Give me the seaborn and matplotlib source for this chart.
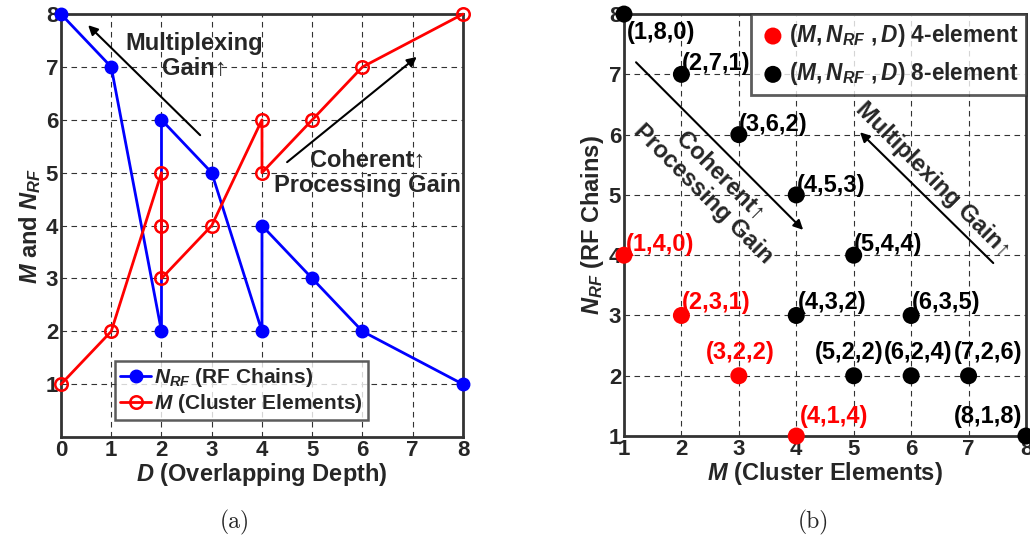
import matplotlib
matplotlib.use("Agg")
import matplotlib.pyplot as plt
import seaborn as sns

# ── (a) overlapping depth vs M and N_RF ──
d_nrf = [0, 1, 2, 2, 3, 4, 4, 5, 6, 8]
nrf_vals = [8, 7, 2, 6, 5, 2, 4, 3, 2, 1]
d_m = [0, 1, 2, 2, 2, 3, 4, 4, 5, 6, 8]
m_vals = [1, 2, 5, 4, 3, 4, 6, 5, 6, 7, 8]

# ── (b) (M, N_RF, D) configurations ──
m4 = [1, 2, 3, 4]
n4 = [4, 3, 2, 1]
d4 = [0, 1, 2, 4]
m8 = [1, 2, 3, 4, 5, 4, 6, 5, 6, 7, 8]
n8 = [8, 7, 6, 5, 4, 3, 3, 2, 2, 2, 1]
d8 = [0, 1, 2, 3, 4, 2, 5, 2, 4, 6, 8]

# label offsets (points) for the tuples in (b)
off4 = [(26, 8), (25, 9), (1, 17), (27, 14)]
off8 = [(27, -13), (25, 8), (25, 7), (25, 7), (25, 8), (26, 9), (25, 9),
        (-3, 17), (5, 17), (14, 17), (-27, 14)]

sns.set_style("white")
plt.rcParams["font.family"] = ["Liberation Sans", "DejaVu Sans"]
plt.rcParams["font.weight"] = "bold"
plt.rcParams["mathtext.fontset"] = "custom"
plt.rcParams["mathtext.it"] = "Liberation Sans:italic:bold"
plt.rcParams["mathtext.rm"] = "Liberation Sans:bold"
plt.rcParams["mathtext.bf"] = "Liberation Sans:bold"

fig = plt.figure(figsize=(10.3, 5.41), dpi=100)
ax1 = fig.add_axes([0.0592, 0.192, 0.3903, 0.782])
ax2 = fig.add_axes([0.6058, 0.194, 0.3903, 0.780])

grid_kw = dict(linestyle=(0, (5, 4)), color="#333333", linewidth=0.8)
for ax in (ax1, ax2):
    ax.grid(True, **grid_kw)
    ax.set_axisbelow(True)
    for sp in ax.spines.values():
        sp.set_linewidth(2)
        sp.set_color("#333333")
    ax.tick_params(direction="in", length=4, width=1, labelsize=16, pad=2)

# ── Plot (a) ──
sns.lineplot(x=d_nrf, y=nrf_vals, sort=False, estimator=None, ax=ax1,
             color="blue", linewidth=2, marker="o", markersize=9,
             markeredgecolor="blue", markeredgewidth=1,
             label=r"$N_{RF}$ (RF Chains)", clip_on=False, zorder=3)
sns.lineplot(x=d_m, y=m_vals, sort=False, estimator=None, ax=ax1,
             color="red", linewidth=2, marker="o", markersize=9,
             markerfacecolor="none", markeredgecolor="red",
             markeredgewidth=1.8,
             label=r"$M$ (Cluster Elements)", clip_on=False, zorder=4)
ax1.set_xlim(0, 8)
ax1.set_ylim(0, 8)
ax1.set_xticks(range(0, 9))
ax1.set_yticks(range(1, 9))
ax1.set_xlabel(r"$D$ (Overlapping Depth)", fontsize=17, fontweight="bold", labelpad=0)
ax1.set_ylabel(r"$M$ and $N_{RF}$", fontsize=17, fontweight="bold", labelpad=2)
leg1 = ax1.legend(loc="lower left", bbox_to_anchor=(0.134, 0.04), fontsize=15,
                  frameon=True, fancybox=False, borderaxespad=0,
                  handlelength=1.5, handletextpad=0.15, borderpad=0.25,
                  labelspacing=0.15)
leg1.get_frame().set_edgecolor("#333333")
leg1.get_frame().set_linewidth(1.8)

arrow_kw = dict(arrowstyle="-|>", color="black", lw=1.5, mutation_scale=14,
                shrinkA=0, shrinkB=0)
ax1.annotate("", xy=(0.54, 7.79), xytext=(2.77, 5.71), arrowprops=arrow_kw)
ax1.text(2.65, 7.2, "Multiplexing\nGain\u2191", fontsize=17, fontweight="bold",
         ha="center", va="center", multialignment="center", linespacing=1.1)
ax1.annotate("", xy=(7.08, 7.19), xytext=(4.5, 5.2), arrowprops=arrow_kw)
ax1.text(6.1, 5.0, "Coherent\u2191\nProcessing Gain", fontsize=17, fontweight="bold",
         ha="center", va="center", multialignment="center", linespacing=1.1)

# ── Plot (b) ──
sns.scatterplot(x=m4, y=n4, ax=ax2, color="red", s=150, edgecolor="none",
                label=r"$\mathit{(M,N_{RF}\ ,D)}$ 4-element", clip_on=False, zorder=4)
sns.scatterplot(x=m8, y=n8, ax=ax2, color="black", s=150, edgecolor="none",
                label=r"$\mathit{(M,N_{RF}\ ,D)}$ 8-element", clip_on=False, zorder=4)
for m, n, d, off in zip(m4, n4, d4, off4):
    ax2.annotate(f"({m},{n},{d})", (m, n), xytext=off, textcoords="offset points",
                 ha="center", va="center", color="red", fontsize=17,
                 fontweight="bold", annotation_clip=False)
for m, n, d, off in zip(m8, n8, d8, off8):
    ax2.annotate(f"({m},{n},{d})", (m, n), xytext=off, textcoords="offset points",
                 ha="center", va="center", color="black", fontsize=17,
                 fontweight="bold", annotation_clip=False)
ax2.set_xlim(1, 8)
ax2.set_ylim(1, 8)
ax2.set_xticks(range(1, 9))
ax2.set_yticks(range(1, 9))
ax2.set_xlabel(r"$M$ (Cluster Elements)", fontsize=17, fontweight="bold", labelpad=0)
ax2.set_ylabel(r"$N_{RF}$ (RF Chains)", fontsize=17, fontweight="bold", labelpad=2)
leg2 = ax2.legend(loc="upper right", fontsize=16.3, frameon=True, fancybox=False,
                  borderaxespad=0, handletextpad=0.1, borderpad=0.35,
                  labelspacing=0.5, markerscale=1.0, handlelength=1.2)
leg2.get_frame().set_edgecolor("#333333")
leg2.get_frame().set_linewidth(2)

ax2.annotate("", xy=(4.12, 4.42), xytext=(1.21, 7.2), arrowprops=arrow_kw)
ax2.text(2.53, 5.16, "Coherent\u2191\nProcessing Gain", fontsize=17, fontweight="bold",
         ha="center", va="center", multialignment="center", rotation=-45,
         rotation_mode="anchor", linespacing=1.05)
ax2.annotate("", xy=(5.11, 6.04), xytext=(7.43, 3.87), arrowprops=arrow_kw)
ax2.text(6.38, 5.25, "Multiplexing Gain\u2191", fontsize=17, fontweight="bold",
         ha="center", va="center", rotation=-45, rotation_mode="anchor")

# captions
fig.text(0.228, 0.035, "(a)", family="cmr10", fontsize=17, fontweight="normal",
         ha="center", va="center")
fig.text(0.79, 0.035, "(b)", family="cmr10", fontsize=17, fontweight="normal",
         ha="center", va="center")

fig.savefig("out.png", dpi=100)
